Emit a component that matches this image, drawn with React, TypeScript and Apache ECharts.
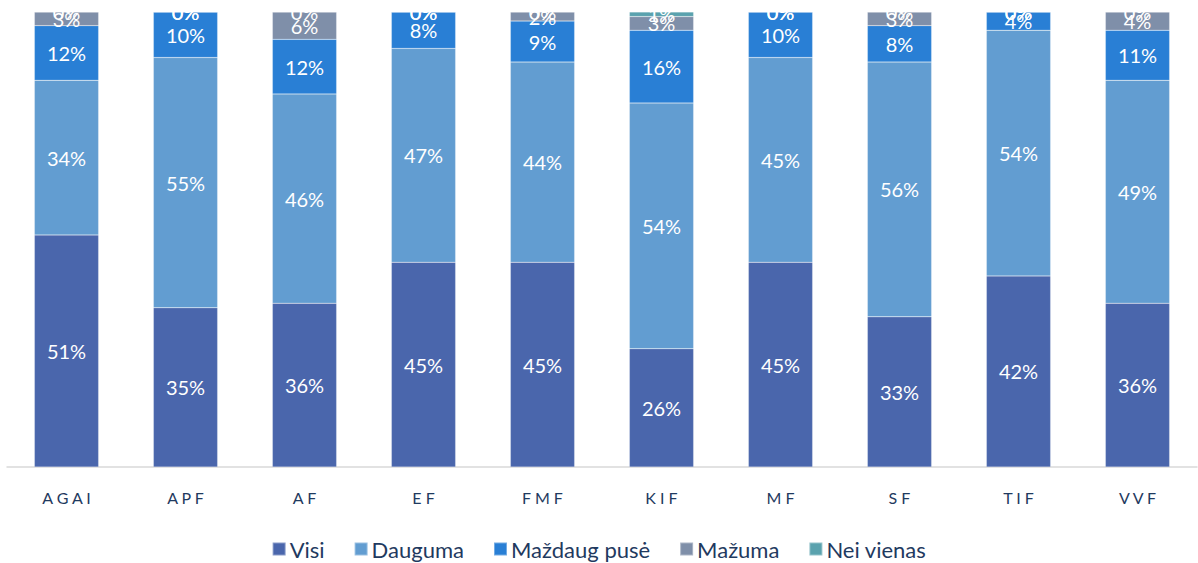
import React, { useEffect, useRef } from "react";
import * as echarts from "echarts";

const categories = ["AGAI", "APF", "AF", "EF", "FMF", "KIF", "MF", "SF", "TIF", "VVF"];
const seriesNames = ["Visi", "Dauguma", "Maždaug pusė", "Mažuma", "Nei vienas"];
const visi = [51, 35, 36, 45, 45, 26, 45, 33, 42, 36];
const dauguma = [34, 55, 46, 47, 44, 54, 45, 56, 54, 49];
const mazdaug = [12, 10, 12, 8, 9, 16, 10, 8, 4, 11];
const mazuma = [3, 0, 6, 0, 2, 3, 0, 3, 0, 4];
const neiVienas = [0, 0, 0, 0, 0, 1, 0, 0, 0, 0];
const colors = ["#4A66AC", "#629DD1", "#297FD5", "#7F8FA9", "#5AA2AE"];

const FONT = "Lato, 'Open Sans', sans-serif";

export default function App() {
  const ref = useRef<HTMLDivElement>(null);
  useEffect(() => {
    if (!ref.current) return;
    document.body.style.margin = "0";
    document.body.style.overflow = "hidden";
    const chart = echarts.init(ref.current, null, { renderer: "svg" });
    const values = [visi, dauguma, mazdaug, mazuma, neiVienas];
    chart.setOption({
      animation: false,
      backgroundColor: "#ffffff",
      grid: { left: 7, right: 1, top: 12, bottom: 96, containLabel: false },
      legend: {
        top: 533,
        left: "center",
        itemWidth: 13,
        itemHeight: 13,
        itemGap: 29,
        icon: "rect",
        textStyle: { fontFamily: FONT, fontSize: 22, color: "#1F3A60", padding: [0, 0, 0, -1] },
        data: seriesNames,
      },
      xAxis: {
        type: "category",
        data: categories,
        axisLine: { lineStyle: { color: "#D9D9D9", width: 1.5 } },
        axisTick: { show: false },
        axisLabel: {
          margin: 22,
          fontFamily: FONT,
          fontSize: 16,
          color: "#1F3A60",
          formatter: (v: string) => v.split("").join(" "),
        },
      },
      yAxis: {
        type: "value",
        min: 0,
        max: 100,
        show: false,
        splitLine: { show: false },
      },
      series: seriesNames.map((name, i) => ({
        name,
        type: "bar",
        stack: "total",
        barWidth: "54%",
        data: values[i],
        itemStyle: { color: colors[i], borderColor: "rgba(255,255,255,0.35)", borderWidth: 0.5 },
        label: {
          show: true,
          position: "inside",
          formatter: "{c}%",
          color: "#ffffff",
          fontFamily: FONT,
          fontSize: 20,
        },
      })),
      graphic: [
        {
          type: "rect",
          left: 0,
          top: 0,
          z: 100,
          shape: { width: 1198, height: 12 },
          style: { fill: "#ffffff" },
        },
      ],
    });
    return () => chart.dispose();
  }, []);
  return (
    <div
      ref={ref}
      style={{ position: "absolute", left: 0, top: 0, width: 1198, height: 563 }}
    />
  );
}
